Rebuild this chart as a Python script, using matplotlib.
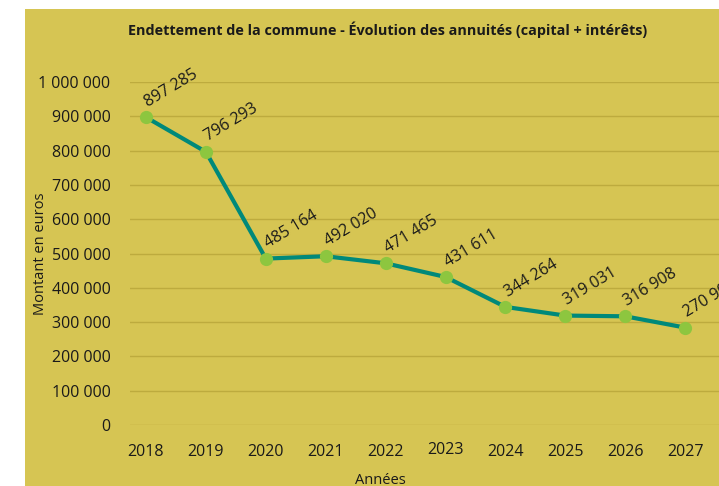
import matplotlib
matplotlib.use("Agg")
import matplotlib.pyplot as plt
from matplotlib.patches import Rectangle

years = ["2018", "2019", "2020", "2021", "2022", "2023", "2024", "2025", "2026", "2027"]
values = [897285, 796293, 485164, 492020, 471465, 431611, 344264, 319031, 316908, 284000]
value_labels = ["897 285", "796 293", "485 164", "492 020", "471 465", "431 611",
                "344 264", "319 031", "316 908", "270 908"]
yticks = [0, 100000, 200000, 300000, 400000, 500000, 600000, 700000, 800000, 900000, 1000000]
ytick_labels = ["0", "100 000", "200 000", "300 000", "400 000", "500 000", "600 000",
                "700 000", "800 000", "900 000", "1 000 000"]

plt.rcParams['font.family'] = ['Open Sans', 'DejaVu Sans']

W, H = 719, 486
fig = plt.figure(figsize=(W / 100, H / 100), dpi=100)
fig.patch.set_facecolor("white")
bg = "#D6C553"
fig.patches.append(Rectangle((25 / W, 0), 1 - 25 / W, 1 - 9 / H, transform=fig.transFigure,
                             facecolor=bg, edgecolor="none", zorder=-5))

# axes: left at x=130px, right beyond figure; y 0 at 425px, 1M at 82px
left_px = 130
x0_px, dx_px = 146, 59.9
xl = (left_px - x0_px) / dx_px
xr = (W - x0_px) / dx_px
y0_px, y1_px = 425, 82
bottom = 1 - y0_px / H
height = (y0_px - y1_px) / H
ax = fig.add_axes([left_px / W, bottom, (W - left_px) / W, height])
ax.set_zorder(2)
ax.set_facecolor("none")
ax.set_xlim(xl, xr)
ax.set_ylim(0, 1000000)

x = list(range(len(years)))
ax.plot(x, values, color="#00897A", lw=3.0, zorder=3, solid_joinstyle="round")
ax.plot(x, values, 'o', ms=8.5, color="#8DC63F", mec="#8DC63F", zorder=4)

for xi, v, lab in zip(x, values, value_labels):
    ax.annotate(lab, (xi, v), xytext=(3, 5), textcoords="offset points",
                rotation=31, rotation_mode="anchor", ha="left", va="bottom",
                fontsize=11.5, color="#1a1a1a", zorder=5, annotation_clip=False)

ax.set_yticks(yticks)
ax.set_yticklabels(ytick_labels, fontsize=11.5, color="#1a1a1a")
ax.set_xticks(x)
ax.set_xticklabels(years, fontsize=11.5, color="#1a1a1a")
ax.tick_params(axis="both", length=0)
ax.tick_params(axis="y", pad=14)
ax.tick_params(axis="x", pad=14)
for lbl in ax.get_xticklabels():
    if lbl.get_text() == "2023":
        lbl.set_y(0.008)

ax.grid(axis="y", color="#BDAB3E", lw=1.0)
ax.set_axisbelow(True)
for s in ax.spines.values():
    s.set_visible(False)

fig.text(40 / W, 1 - 254 / H, "Montant en euros", rotation=90, ha="center", va="center",
         fontsize=10.5, color="#1a1a1a")
fig.text(380 / W, 1 - 480 / H, "Années", ha="center", va="center", fontsize=10.5, color="#1a1a1a")
fig.text(388 / W, 1 - 30 / H, "Endettement de la commune - Évolution des annuités (capital + intérêts)",
         ha="center", va="center", fontsize=10.4, fontweight="bold", color="#1a1a1a")

fig.savefig("out.png", dpi=100)
